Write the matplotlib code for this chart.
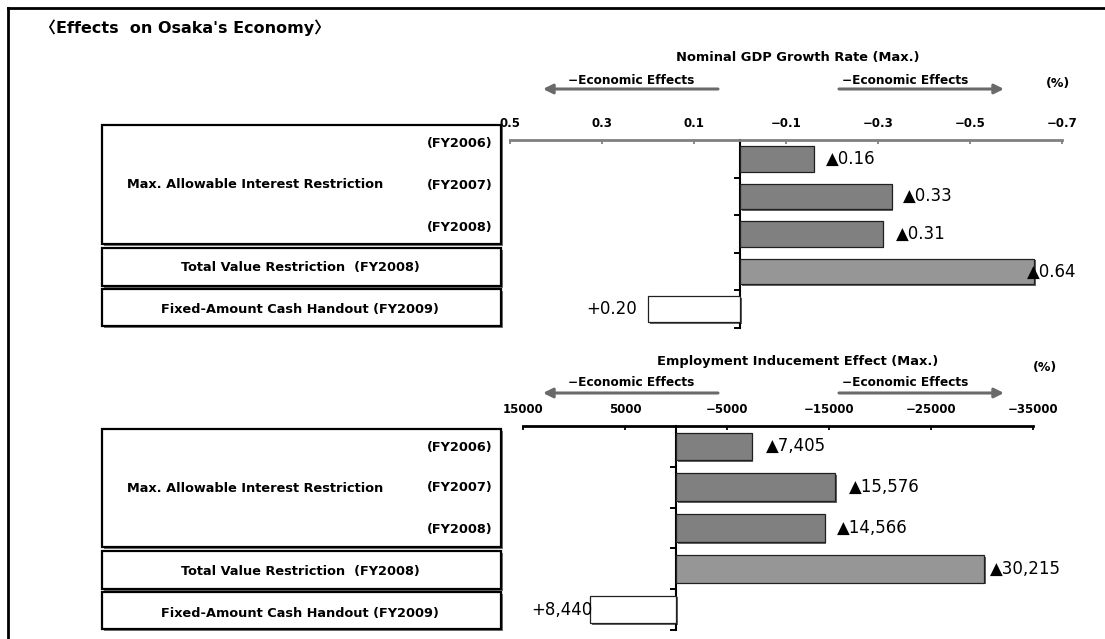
import matplotlib
matplotlib.use("Agg")
import matplotlib.pyplot as plt
from matplotlib.patches import Rectangle
from matplotlib import patheffects as pe

plt.rcParams["font.family"] = ["DejaVu Sans", "Noto Sans CJK JP"]

# nominal GDP growth rate (%), negative = drag on the economy
gdp_values = [-0.16, -0.33, -0.31, -0.64, 0.20]
gdp_ticks = [0.5, 0.3, 0.1, -0.1, -0.3, -0.5, -0.7]

# employment inducement effect (persons)
emp_values = [-7405, -15576, -14566, -30215, 8440]
emp_ticks = [15000, 5000, -5000, -15000, -25000, -35000]

bar_colors = ["#808080", "#808080", "#808080", "#969696", "#ffffff"]

W, H = 1105, 639
fig = plt.figure(figsize=(W / 100, H / 100), dpi=100)

# full-figure layer in pixel units for the frame, boxes and headings
bg = fig.add_axes([0, 0, 1, 1], zorder=0)
bg.set_xlim(0, W)
bg.set_ylim(H, 0)
bg.axis("off")


def px_axes(x0, y0, x1, y1):
    ax = fig.add_axes([x0 / W, 1 - y1 / H, (x1 - x0) / W, (y1 - y0) / H], zorder=2)
    ax.patch.set_alpha(0)
    return ax


def fmt_tick(t):
    return f"{t:g}".replace("-", "\u2212")


def gdp_label(v):
    return f"\u25b2{abs(v):.2f}" if v < 0 else f"+{v:.2f}"


def emp_label(v):
    return f"\u25b2{abs(v):,}" if v < 0 else f"+{v:,}"


def draw_chart(ax, values, ticks, xlim, axis_color, labeler, pads):
    ys = list(range(len(values)))
    bars = ax.barh(ys, values, height=0.68, color=bar_colors,
                   edgecolor="#202020", linewidth=0.9, zorder=3)
    for b in bars:
        b.set_path_effects([pe.SimplePatchShadow(offset=(1.2, -1.2), shadow_rgbFace="black", alpha=0.6),
                            pe.Normal()])
    ax.set_xlim(*xlim)
    ax.set_ylim(len(values) - 0.5, -0.5)

    ax.xaxis.tick_top()
    ax.set_xticks(ticks)
    ax.set_xticklabels([fmt_tick(t) for t in ticks], fontsize=8.5, fontweight="bold")
    ax.tick_params(axis="x", direction="in", length=3, width=1.3, color=axis_color, pad=7)

    ax.set_yticks([i + 0.5 for i in ys])
    ax.set_yticklabels([])
    ax.tick_params(axis="y", direction="out", length=4, width=1.4)

    for s in ["right", "bottom"]:
        ax.spines[s].set_visible(False)
    ax.spines["top"].set_color(axis_color)
    ax.spines["top"].set_linewidth(2)
    ax.spines["left"].set_position(("data", 0))
    ax.spines["left"].set_linewidth(1.5)

    # value labels beside the bar ends
    for y, v, dx in zip(ys, values, pads):
        ha = "left" if v < 0 else "right"
        ax.annotate(labeler(v), xy=(v, y), xytext=(dx, 0), textcoords="offset pixels",
                    ha=ha, va="center", fontsize=12, family="DejaVu Sans", zorder=4)


ax1 = px_axes(510, 140, 1062, 328)
draw_chart(ax1, gdp_values, gdp_ticks, (0.5, -0.7), "#808080", gdp_label,
           [12, 11, 13, -7, -11])

ax2 = px_axes(523, 426, 1033, 630)
draw_chart(ax2, emp_values, emp_ticks, (15000, -35000), "black", emp_label,
           [14, 14, 12, 6, 3])

# outer frame
bg.plot([8, W], [8, 8], color="black", lw=2)
bg.plot([8, 8], [8, H], color="black", lw=2)
bg.text(40, 28, "\u3008Effects  on Osaka's Economy\u3009", fontsize=11.5,
        fontweight="bold", va="center", ha="left")

box_kw = dict(facecolor="white", edgecolor="black", lw=1.6, zorder=1,
              path_effects=[pe.SimplePatchShadow(offset=(1.5, -1.5), shadow_rgbFace="#777777", alpha=1),
                            pe.Normal()])
txt_kw = dict(fontsize=9.3, fontweight="bold", va="center", zorder=2)


def draw_table(top, b1, b2, b3, fy_y, total_y, fixed_y):
    bg.add_patch(Rectangle((102, top), 399, b1 - top, **box_kw))
    bg.add_patch(Rectangle((102, b1 + 4), 399, b2 - b1 - 4, **box_kw))
    bg.add_patch(Rectangle((102, b2 + 3), 399, b3 - b2 - 3, **box_kw))
    for y, fy in zip(fy_y, ["(FY2006)", "(FY2007)", "(FY2008)"]):
        bg.text(493, y, fy, ha="right", **txt_kw)
    bg.text(127, fy_y[1], "Max. Allowable Interest Restriction", ha="left", **txt_kw)
    bg.text(300, total_y, "Total Value Restriction  (FY2008)", ha="center", **txt_kw)
    bg.text(300, fixed_y, "Fixed-Amount Cash Handout (FY2009)", ha="center", **txt_kw)


draw_table(125, 244, 286, 326, [144, 185, 228], 267, 310)
draw_table(429, 547, 589, 629, [448, 488, 530], 571, 613)


def draw_header(title, title_y, pct_x, pct_y, text_y, arrow_y):
    bg.text(798, title_y, title, ha="center", va="center", fontsize=9.4, fontweight="bold")
    bg.text(pct_x, pct_y, "(%)", ha="center", va="center", fontsize=9, fontweight="bold")
    bg.text(568, text_y, "\u2212Economic Effects", ha="left", va="center", fontsize=8.7, fontweight="bold")
    bg.text(842, text_y, "\u2212Economic Effects", ha="left", va="center", fontsize=8.7, fontweight="bold")
    arrow = dict(arrowstyle="-|>", color="#6a6a6a", lw=2.2, mutation_scale=14,
                 shrinkA=0, shrinkB=0)
    bg.annotate("", xy=(543, arrow_y), xytext=(718, arrow_y), arrowprops=arrow)
    bg.annotate("", xy=(1004, arrow_y), xytext=(839, arrow_y), arrowprops=arrow)


draw_header("Nominal GDP Growth Rate (Max.)", 57, 1058, 83, 80, 89)
draw_header("Employment Inducement Effect (Max.)", 362, 1045, 367, 383, 393)

fig.savefig("out.png", dpi=100)
